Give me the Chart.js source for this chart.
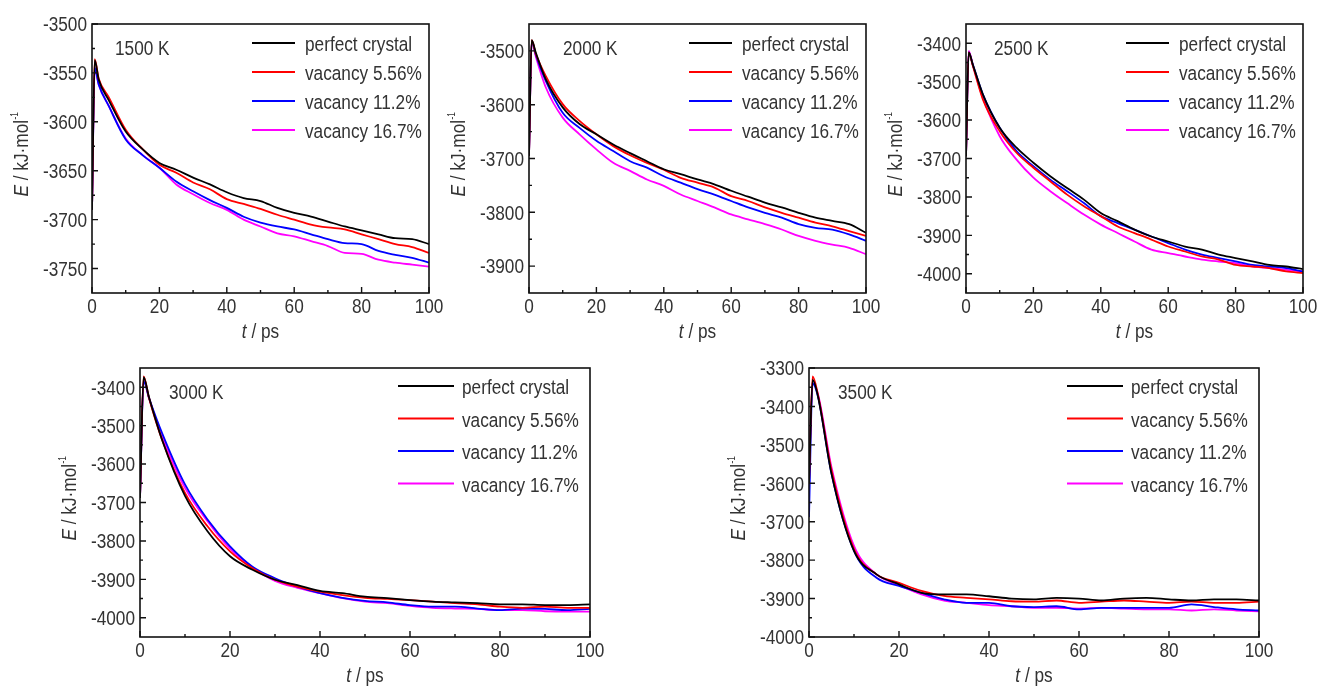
<!DOCTYPE html>
<html>
<head>
<meta charset="utf-8">
<script src="https://cdn.jsdelivr.net/npm/chart.js@4.4.0/dist/chart.umd.min.js"></script>
<style>
  html, body { margin: 0; padding: 0; background: #ffffff; }
  body { width: 1321px; height: 688px; position: relative; overflow: hidden; }
  canvas { position: absolute; }
</style>
</head>
<body>
<canvas id="c1"></canvas>
<canvas id="c2"></canvas>
<canvas id="c3"></canvas>
<canvas id="c4"></canvas>
<canvas id="c5"></canvas>
<script>
// ---------------- DATA ----------------
const seriesLabels = ['perfect crystal', 'vacancy 5.56%', 'vacancy 11.2%', 'vacancy 16.7%'];
const seriesColors = ['#000000', '#ff0000', '#0000ff', '#ff00ff'];
const tempLabels = ['1500 K', '2000 K', '2500 K', '3000 K', '3500 K'];

// time (ps)
const timePoints = [0, 0.8, 2, 5, 10, 15, 20, 25, 30, 35, 40, 45, 50, 55, 60, 65, 70, 75, 80, 85, 90, 95, 100];
const timeTicks = [0, 20, 40, 60, 80, 100];
const timeMinorTicks = [10, 30, 50, 70, 90];

// 1500 K
const e1500Perfect = [-3690, -3537, -3557, -3578, -3610, -3628, -3642, -3649, -3657, -3664, -3672, -3678, -3681, -3688, -3693, -3697, -3702, -3707, -3711, -3715, -3719, -3720, -3725];
const e1500Vac556  = [-3690, -3536, -3556, -3575, -3608, -3628, -3644, -3652, -3662, -3669, -3679, -3684, -3689, -3695, -3700, -3705, -3708, -3710, -3715, -3720, -3725, -3728, -3734];
const e1500Vac112  = [-3690, -3545, -3562, -3584, -3618, -3634, -3647, -3661, -3671, -3680, -3688, -3697, -3703, -3707, -3710, -3715, -3720, -3724, -3725, -3732, -3736, -3739, -3744];
const e1500Vac167  = [-3690, -3545, -3562, -3584, -3617, -3634, -3647, -3664, -3674, -3683, -3690, -3700, -3707, -3714, -3717, -3722, -3727, -3734, -3735, -3741, -3744, -3746, -3748];

// 2000 K
const e2000Perfect = [-3695, -3480, -3503, -3553, -3605, -3636, -3655, -3674, -3690, -3705, -3720, -3729, -3739, -3748, -3760, -3771, -3782, -3791, -3801, -3810, -3816, -3822, -3838];
const e2000Vac556  = [-3695, -3480, -3505, -3547, -3599, -3630, -3655, -3677, -3694, -3708, -3721, -3736, -3745, -3754, -3770, -3779, -3791, -3801, -3810, -3819, -3826, -3835, -3844];
const e2000Vac112  = [-3695, -3482, -3507, -3556, -3615, -3643, -3667, -3686, -3705, -3717, -3733, -3745, -3757, -3767, -3779, -3791, -3801, -3810, -3822, -3829, -3832, -3841, -3853];
const e2000Vac167  = [-3695, -3482, -3510, -3568, -3624, -3655, -3683, -3708, -3723, -3739, -3751, -3767, -3779, -3791, -3804, -3813, -3822, -3832, -3844, -3853, -3860, -3866, -3878];

// 2500 K
const e2500Perfect = [-3694, -3424, -3455, -3533, -3620, -3672, -3711, -3746, -3777, -3807, -3842, -3863, -3885, -3903, -3916, -3929, -3937, -3950, -3959, -3968, -3977, -3981, -3988];
const e2500Vac556  = [-3694, -3424, -3458, -3546, -3629, -3685, -3724, -3759, -3794, -3824, -3850, -3877, -3894, -3911, -3929, -3942, -3955, -3963, -3977, -3981, -3985, -3994, -3998];
const e2500Vac112  = [-3694, -3424, -3455, -3533, -3620, -3681, -3720, -3755, -3785, -3816, -3850, -3868, -3885, -3903, -3920, -3937, -3950, -3959, -3968, -3977, -3981, -3985, -3994];
const e2500Vac167  = [-3694, -3420, -3456, -3542, -3642, -3703, -3750, -3785, -3816, -3846, -3872, -3894, -3916, -3937, -3946, -3955, -3963, -3968, -3972, -3981, -3985, -3990, -3994];

// 3000 K
const e3000Perfect = [-3688, -3374, -3426, -3540, -3683, -3775, -3840, -3875, -3901, -3915, -3930, -3936, -3945, -3949, -3954, -3958, -3960, -3962, -3965, -3965, -3967, -3967, -3965];
const e3000Vac556  = [-3688, -3372, -3428, -3540, -3675, -3762, -3827, -3871, -3901, -3919, -3932, -3941, -3948, -3951, -3954, -3958, -3962, -3965, -3971, -3974, -3971, -3974, -3974];
const e3000Vac112  = [-3688, -3385, -3428, -3522, -3653, -3744, -3814, -3867, -3897, -3919, -3936, -3948, -3956, -3960, -3967, -3971, -3971, -3976, -3980, -3976, -3977, -3980, -3977];
const e3000Vac167  = [-3688, -3380, -3428, -3531, -3662, -3749, -3820, -3869, -3904, -3922, -3936, -3949, -3958, -3962, -3969, -3974, -3976, -3977, -3980, -3980, -3983, -3984, -3984];

// 3500 K
const e3500Perfect = [-3600, -3331, -3374, -3575, -3776, -3837, -3863, -3885, -3889, -3889, -3894, -3900, -3902, -3898, -3900, -3905, -3900, -3898, -3902, -3905, -3902, -3902, -3905];
const e3500Vac556  = [-3600, -3322, -3370, -3566, -3771, -3837, -3859, -3880, -3893, -3898, -3902, -3907, -3908, -3905, -3911, -3908, -3905, -3908, -3911, -3908, -3911, -3911, -3908];
const e3500Vac112  = [-3688, -3340, -3375, -3575, -3776, -3846, -3867, -3885, -3902, -3911, -3911, -3920, -3922, -3920, -3928, -3924, -3924, -3924, -3924, -3915, -3922, -3928, -3931];
const e3500Vac167  = [-3580, -3339, -3368, -3558, -3763, -3837, -3865, -3889, -3905, -3911, -3917, -3920, -3924, -3924, -3926, -3924, -3926, -3928, -3928, -3931, -3928, -3931, -3933];

// y tick labels
const yTicks1500 = [-3500, -3550, -3600, -3650, -3700, -3750];
const yMinor1500 = [-3525, -3575, -3625, -3675, -3725];
const yTicks2000 = [-3500, -3600, -3700, -3800, -3900];
const yMinor2000 = [-3550, -3650, -3750, -3850];
const yTicks2500 = [-3400, -3500, -3600, -3700, -3800, -3900, -4000];
const yMinor2500 = [-3450, -3550, -3650, -3750, -3850, -3950];
const yTicks3000 = [-3400, -3500, -3600, -3700, -3800, -3900, -4000];
const yMinor3000 = [-3450, -3550, -3650, -3750, -3850, -3950];
const yTicks3500 = [-3300, -3400, -3500, -3600, -3700, -3800, -3900, -4000];
const yMinor3500 = [-3350, -3450, -3550, -3650, -3750, -3850, -3950];

// ---------------- TEXT STYLE ----------------
// Reference face is a condensed Arial (Arial Narrow look): tall glyphs, narrow advance.
const FONT = "'Liberation Sans', Arial, Helvetica, sans-serif";
const FS = 20.5;          // glyph size
const SX = 0.84;          // horizontal condensing
const CAPC = 0.358 * FS;  // baseline offset to centre caps
const TXT = '#333333';

function txt(ctx, s, x, y, align, font) {
  ctx.save();
  ctx.font = font || `${FS}px ${FONT}`;
  ctx.textAlign = align || 'left';
  ctx.textBaseline = 'alphabetic';
  ctx.translate(x, y);
  ctx.scale(SX, 1);
  ctx.fillText(s, 0, 0);
  ctx.restore();
}
function tw(ctx, s, font) {
  ctx.save();
  ctx.font = font || `${FS}px ${FONT}`;
  const w = ctx.measureText(s).width * SX;
  ctx.restore();
  return w;
}

// ---------------- RENDERING ----------------
const decor = {
  id: 'decor',
  afterDraw(chart, args, o) {
    const { ctx, chartArea: a } = chart;
    const x = chart.scales.x, y = chart.scales.y;
    ctx.save();
    // tick marks (inward)
    ctx.strokeStyle = '#111111';
    ctx.lineWidth = 1.4;
    ctx.beginPath();
    o.yMajor.forEach(v => { const p = y.getPixelForValue(v); ctx.moveTo(a.left, p); ctx.lineTo(a.left + 6, p); });
    o.yMinor.forEach(v => { const p = y.getPixelForValue(v); ctx.moveTo(a.left, p); ctx.lineTo(a.left + 3, p); });
    timeTicks.forEach(v => { const p = x.getPixelForValue(v); ctx.moveTo(p, a.bottom); ctx.lineTo(p, a.bottom - 6); });
    timeMinorTicks.forEach(v => { const p = x.getPixelForValue(v); ctx.moveTo(p, a.bottom); ctx.lineTo(p, a.bottom - 3); });
    ctx.stroke();
    // frame
    ctx.lineWidth = 1.6;
    ctx.strokeRect(a.left, a.top, a.right - a.left, a.bottom - a.top);

    ctx.fillStyle = TXT;
    // tick labels, positioned by the chart's scales
    y.ticks.forEach(t => { txt(ctx, String(t.value), a.left - 5, y.getPixelForValue(t.value) + CAPC, 'right'); });
    x.ticks.forEach(t => { txt(ctx, String(t.value), x.getPixelForValue(t.value), a.bottom + 13 + CAPC, 'center'); });

    // temperature label
    txt(ctx, o.temp, a.left + o.tempDx, a.top + 24 + CAPC, 'left');

    // legend
    chart.data.datasets.forEach((ds, i) => {
      const ly = a.top + o.legTop + i * o.legStep;
      ctx.strokeStyle = ds.borderColor;
      ctx.lineWidth = 2;
      ctx.beginPath();
      ctx.moveTo(a.left + o.legX, ly);
      ctx.lineTo(a.left + o.legX + o.legLen, ly);
      ctx.stroke();
      ctx.fillStyle = TXT;
      txt(ctx, ds.label, a.left + o.legX + o.legLen + o.legGap, ly + CAPC + 1, 'left');
    });

    // y axis title
    const fI = `italic ${FS}px ${FONT}`, fN = `${FS}px ${FONT}`, fS = `10px ${FONT}`;
    ctx.save();
    ctx.translate(a.left - 71, (a.top + a.bottom) / 2 - 4);
    ctx.rotate(-Math.PI / 2);
    const w1 = tw(ctx, 'E', fI), w2 = tw(ctx, ' / kJ\u00b7mol', fN), w3 = tw(ctx, '-1', fS);
    let xx = -(w1 + w2 + w3) / 2;
    ctx.fillStyle = TXT;
    txt(ctx, 'E', xx, CAPC, 'left', fI); xx += w1;
    txt(ctx, ' / kJ\u00b7mol', xx, CAPC, 'left', fN); xx += w2 + 0.5;
    txt(ctx, '-1', xx, CAPC - FS * 0.5, 'left', fS);
    ctx.restore();

    // x axis title
    const t1 = tw(ctx, 't', fI), t2 = tw(ctx, ' / ps', fN);
    let tx = (a.left + a.right) / 2 - (t1 + t2) / 2;
    txt(ctx, 't', tx, a.bottom + 45, 'left', fI); tx += t1;
    txt(ctx, ' / ps', tx, a.bottom + 45, 'left', fN);
    ctx.restore();
  }
};

function makePanel(canvasId, geom, series, yTicks, yMinor, yMin, yMax, temp, leg) {
  const PADL = 92, PADT = 24, PADR = 25, PADB = 58;
  const cv = document.getElementById(canvasId);
  const w = (geom.R - geom.L) + PADL + PADR;
  const h = (geom.B - geom.T) + PADT + PADB;
  cv.width = w; cv.height = h;
  cv.style.width = w + 'px'; cv.style.height = h + 'px';
  cv.style.left = (geom.L - PADL) + 'px';
  cv.style.top = (geom.T - PADT) + 'px';

  const datasets = series.map((vals, i) => ({
    label: seriesLabels[i],
    data: timePoints.map((t, j) => ({ x: t, y: vals[j] })),
    borderColor: seriesColors[i],
    backgroundColor: seriesColors[i],
    borderWidth: 1.8,
    pointRadius: 0,
    fill: false,
    cubicInterpolationMode: 'monotone'
  }));

  return new Chart(cv, {
    type: 'line',
    data: { datasets },
    options: {
      responsive: false,
      animation: false,
      devicePixelRatio: 1,
      layout: { padding: { left: 0, top: PADT, right: PADR, bottom: 0 } },
      plugins: {
        legend: { display: false },
        tooltip: { enabled: false },
        decor: Object.assign({ yMajor: yTicks, yMinor: yMinor, temp: temp }, leg)
      },
      scales: {
        x: {
          type: 'linear', min: 0, max: 100,
          afterBuildTicks: s => { s.ticks = timeTicks.map(v => ({ value: v })); },
          afterFit: s => { s.height = PADB; },
          grid: { display: false, drawTicks: false },
          border: { display: false },
          ticks: { display: false, autoSkip: false }
        },
        y: {
          type: 'linear', min: yMin, max: yMax,
          afterBuildTicks: s => { s.ticks = yTicks.map(v => ({ value: v })); },
          afterFit: s => { s.width = PADL; },
          grid: { display: false, drawTicks: false },
          border: { display: false },
          ticks: { display: false, autoSkip: false }
        }
      }
    },
    plugins: [decor]
  });
}

const legTopRow = { legX: 160, legLen: 43, legGap: 10, legTop: 19, legStep: 29 };
const legBotRow = { legX: 258, legLen: 56, legGap: 8, legTop: 18, legStep: 32.5 };

makePanel('c1', { L: 92, R: 429, T: 24, B: 293 },
  [e1500Perfect, e1500Vac556, e1500Vac112, e1500Vac167], yTicks1500, yMinor1500, -3775, -3500, tempLabels[0],
  Object.assign({ tempDx: 23 }, legTopRow));
makePanel('c2', { L: 529, R: 866, T: 24, B: 293 },
  [e2000Perfect, e2000Vac556, e2000Vac112, e2000Vac167], yTicks2000, yMinor2000, -3950, -3450, tempLabels[1],
  Object.assign({ tempDx: 34 }, legTopRow));
makePanel('c3', { L: 966, R: 1303, T: 24, B: 293 },
  [e2500Perfect, e2500Vac556, e2500Vac112, e2500Vac167], yTicks2500, yMinor2500, -4050, -3350, tempLabels[2],
  Object.assign({ tempDx: 28 }, legTopRow));
makePanel('c4', { L: 140, R: 590, T: 368, B: 637 },
  [e3000Perfect, e3000Vac556, e3000Vac112, e3000Vac167], yTicks3000, yMinor3000, -4050, -3350, tempLabels[3],
  Object.assign({ tempDx: 29 }, legBotRow));
makePanel('c5', { L: 809, R: 1259, T: 368, B: 637 },
  [e3500Perfect, e3500Vac556, e3500Vac112, e3500Vac167], yTicks3500, yMinor3500, -4000, -3300, tempLabels[4],
  Object.assign({ tempDx: 29 }, legBotRow));
</script>
</body>
</html>
